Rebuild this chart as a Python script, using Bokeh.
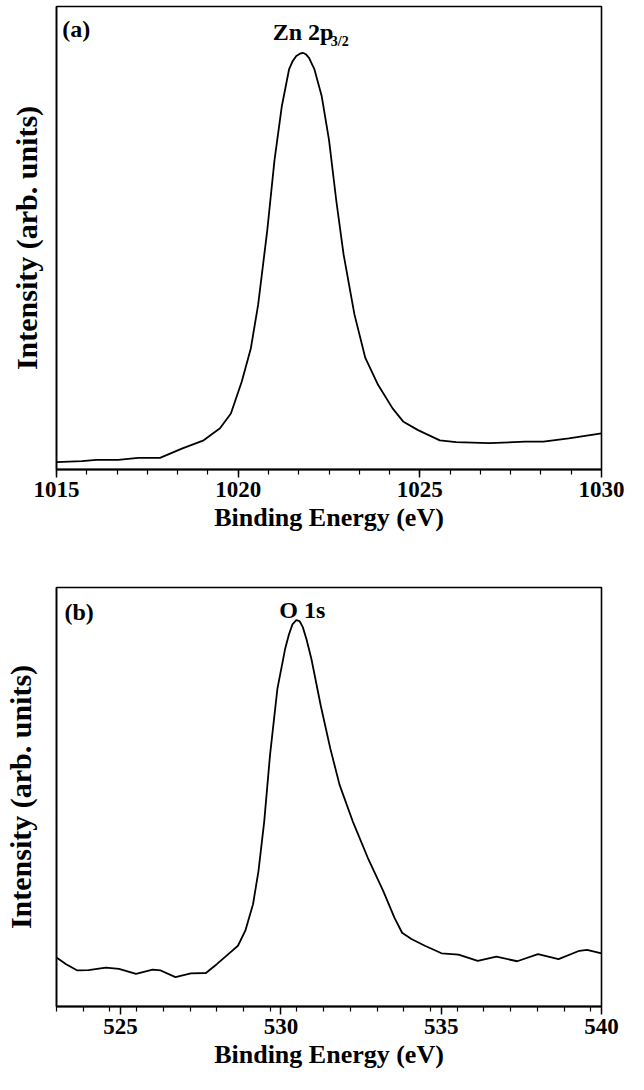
from bokeh.plotting import figure
from bokeh.layouts import column
from bokeh.models import FixedTicker, Label, Range1d
from bokeh.embed import file_html
from bokeh.resources import INLINE
import numpy as np

# ---------------- data ----------------
zn_energy = [1015.0, 1015.7, 1016.1, 1016.7, 1017.25, 1017.85, 1018.45, 1019.05,
             1019.5, 1019.8, 1020.1, 1020.35, 1020.55, 1020.8, 1021.0, 1021.2,
             1021.4, 1021.5, 1021.6, 1021.7, 1021.78, 1021.86, 1021.95, 1022.1,
             1022.3, 1022.5, 1022.7, 1022.9, 1023.2, 1023.5, 1023.85, 1024.25,
             1024.55, 1024.95, 1025.55, 1026.0, 1026.9, 1027.9, 1028.4, 1029.1, 1030.0]
zn_intensity = [1.6, 1.8, 2.1, 2.1, 2.5, 2.5, 4.5, 6.3,
                8.9, 12.1, 19.0, 26.2, 35.6, 51.6, 66.8, 78.4,
                86.4, 88.2, 89.3, 89.8, 90.0, 89.7, 88.9, 86.4,
                80.6, 71.2, 58.1, 46.5, 33.5, 24.1, 18.3, 13.2,
                10.3, 8.5, 6.3, 5.9, 5.7, 6.0, 6.0, 6.7, 7.8]

o_energy = [523.0, 523.3, 523.65, 524.0, 524.54, 524.95, 525.48, 526.0, 526.25,
            526.71, 527.19, 527.66, 528.0, 528.36, 528.66, 528.89, 529.13, 529.3,
            529.48, 529.66, 529.89, 530.13, 530.25, 530.36, 530.48, 530.58, 530.68,
            530.8, 530.95, 531.24, 531.54, 531.83, 532.24, 532.71, 533.19, 533.54,
            533.78, 534.07, 534.49, 535.01, 535.54, 536.14, 536.72, 537.37, 538.02,
            538.66, 539.31, 539.55, 540.0]
o_intensity = [11.7, 10.1, 8.6, 8.7, 9.3, 9.0, 7.8, 8.8, 8.6,
               7.0, 7.9, 8.0, 10.1, 12.5, 14.5, 18.1, 24.4, 32.3,
               44.2, 60.0, 75.8, 85.3, 88.8, 91.2, 92.2, 92.0, 90.6,
               87.6, 83.0, 71.9, 61.6, 52.9, 44.2, 35.5, 27.6, 21.2,
               17.6, 16.1, 14.5, 12.7, 12.4, 10.9, 11.9, 10.8, 12.5,
               11.3, 13.3, 13.5, 12.7]

zn_ticks = [1015, 1020, 1025, 1030]
o_ticks = [525, 530, 535, 540]
x_label = "Binding Energy (eV)"
y_label = "Intensity (arb. units)"

FONT = "'Liberation Serif', 'Times New Roman', serif"


def make_fig(width, height, xr, ticks, mb_left, mb_right, mb_top, mb_bottom, ylab_standoff):
    p = figure(width=width, height=height, x_range=Range1d(*xr), y_range=Range1d(0, 100),
               output_backend="svg", toolbar_location=None, tools="",
               min_border_left=mb_left, min_border_right=mb_right,
               min_border_top=mb_top, min_border_bottom=mb_bottom)
    p.grid.visible = False
    p.background_fill_color = "white"
    p.border_fill_color = "white"
    p.outline_line_color = "black"
    p.outline_line_width = 1.6

    minor = list(np.arange(xr[0], xr[1] + 1e-6, 5.0 / 6.0))
    xa = p.xaxis[0]
    xa.ticker = FixedTicker(ticks=ticks, minor_ticks=minor)
    xa.axis_line_color = "black"
    xa.axis_line_width = 2
    xa.major_tick_line_color = "black"
    xa.minor_tick_line_color = "black"
    xa.major_tick_line_width = 1.5
    xa.minor_tick_line_width = 1.2
    xa.major_tick_in = 0
    xa.minor_tick_in = 0
    xa.major_tick_out = 8
    xa.minor_tick_out = 5
    xa.major_label_standoff = 4
    xa.major_label_text_font = FONT
    xa.major_label_text_font_style = "bold"
    xa.major_label_text_font_size = "23px"
    xa.major_label_text_color = "black"
    xa.axis_label = x_label
    xa.axis_label_text_font = FONT
    xa.axis_label_text_font_style = "bold"
    xa.axis_label_text_font_size = "26px"
    xa.axis_label_text_color = "black"
    xa.axis_label_standoff = 3

    ya = p.yaxis[0]
    ya.ticker = FixedTicker(ticks=[])
    ya.major_tick_out = 0
    ya.minor_tick_out = 0
    ya.major_tick_in = 0
    ya.minor_tick_in = 0
    ya.axis_line_color = "black"
    ya.axis_line_width = 1.5
    ya.major_label_text_font_size = "0px"
    ya.axis_label = y_label
    ya.axis_label_text_font = FONT
    ya.axis_label_text_font_style = "bold"
    ya.axis_label_text_font_size = "30px"
    ya.axis_label_text_color = "black"
    ya.axis_label_standoff = ylab_standoff
    return p


def add_text(p, x, y, text, size):
    p.add_layout(Label(x=x, y=y, text=text, text_font=FONT, text_font_style="bold",
                       text_font_size=size, text_color="black", text_baseline="middle",
                       text_align="left"))


# ---------------- panel (a) ----------------
pa = make_fig(628, 545, (1015, 1030), zn_ticks, 43, 18, 6, 76, 14)
pa.line(zn_energy, zn_intensity, line_color="black", line_width=1.8)
add_text(pa, 1015.16, 95.2, "(a)", "24px")
add_text(pa, 1020.95, 94.6, "Zn 2p", "24px")
add_text(pa, 1022.55, 92.4, "3/2", "14px")

# ---------------- panel (b) ----------------
pb = make_fig(628, 528, (523, 540), o_ticks, 49, 27, 42, 67, 20)
pb.line(o_energy, o_intensity, line_color="black", line_width=1.8)
add_text(pb, 523.25, 94.1, "(b)", "24px")
add_text(pb, 529.95, 94.6, "O 1s", "24px")

layout = column(pa, pb, spacing=0)
open("out.html", "w").write(file_html(layout, INLINE))
